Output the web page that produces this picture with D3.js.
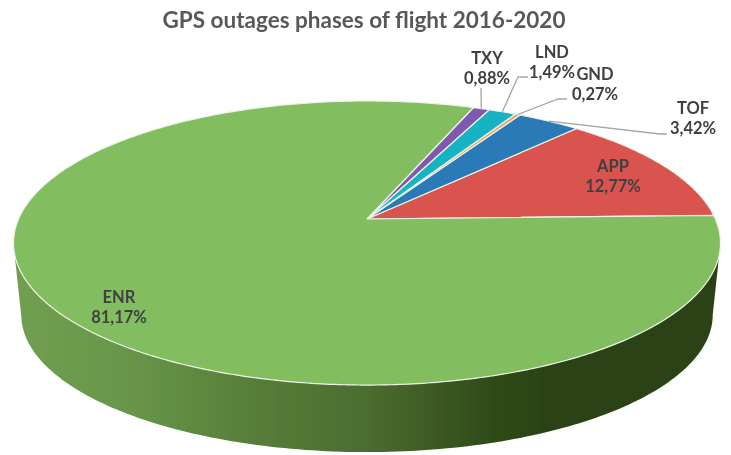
<!DOCTYPE html>
<html>
<head>
<meta charset="utf-8">
<script src="https://cdn.jsdelivr.net/npm/d3@7"></script>
<style>
  html, body { margin: 0; padding: 0; background: #fff; }
  text { font-family: Lato, "Open Sans", sans-serif; font-weight: 700; }
</style>
</head>
<body>
<div id="chart"></div>
<script>
const title = 'GPS outages phases of flight 2016-2020';
const phases = ['APP', 'TOF', 'GND', 'LND', 'TXY', 'ENR'];
const shares = [12.77, 3.42, 0.27, 1.49, 0.88, 81.17];
const colors = ['#d9534f', '#2a7ab8', '#f2a65a', '#17b3c4', '#7f58b0', '#82bd61'];

const width = 731, height = 455;

// label placement, centre of the two text lines
const labelPos = {
  APP: [613, 166], TOF: [693, 108], GND: [595, 74],
  LND: [552, 52], TXY: [487, 58], ENR: [119, 297]
};
// leader lines: elbow points going from the label towards the slice
const leaders = {
  TOF: [[667, 134], [660, 134]],
  GND: [[567, 99], [558, 99]],
  LND: [[528, 77], [518, 77]],
  TXY: [[481, 88]]
};

// Tilted disc: perspective from the unit circle to the screen
const apex = { x: 367, y: 219 };
const persp = -0.169, spanX = 348.4, spanY = 138;
const startDeg = 1.5;

function project(angle, k = 1) {
  // angle in d3.pie terms: 0 at 12 o'clock, growing clockwise
  const u = k * Math.sin(angle), v = -k * Math.cos(angle);
  const w = 1 + persp * v;
  return [apex.x + spanX * u / w, apex.y + spanY * v / w];
}

const svg = d3.select('#chart').append('svg')
  .attr('width', width)
  .attr('height', height);

const defs = svg.append('defs');
const grad = defs.append('linearGradient')
  .attr('id', 'side')
  .attr('gradientUnits', 'userSpaceOnUse')
  .attr('x1', 13).attr('x2', 720).attr('y1', 0).attr('y2', 0);
[[0, '#719f50'], [0.16, '#69964a'], [0.33, '#587f3a'], [0.5, '#4b6d2f'], [0.68, '#2f4a19'], [0.75, '#2b4314'], [1, '#2b4214']]
  .forEach(s => grad.append('stop').attr('offset', s[0]).attr('stop-color', s[1]));

defs.append('filter').attr('id', 'soft')
  .append('feGaussianBlur').attr('stdDeviation', 0.45);

const root = svg.append('g').attr('filter', 'url(#soft)');

// Side wall: visible part of the top rim (between its widest points) + bottom rim
const line = d3.line();
const rimAngles = d3.range(99.7, 260.4, 1).map(d => d * Math.PI / 180);
const depth = 72, shrink = 0.978;
const topRim = rimAngles.map(a => project(a));
const lowRim = rimAngles.map(a => {
  const p = project(a);
  return [apex.x + (p[0] - apex.x) * shrink, p[1] + depth - (p[1] - 243) * 0.035];
}).reverse();

root.append('path')
  .attr('d', line(topRim.concat(lowRim)) + 'Z')
  .attr('fill', 'url(#side)');

// Top of the pie
const pie = d3.pie().sort(null)
  .startAngle(Math.PI / 2 - startDeg * Math.PI / 180)
  .endAngle(Math.PI / 2 - startDeg * Math.PI / 180 - 2 * Math.PI);
const slices = pie(shares);

function slicePath(d) {
  const n = Math.max(4, Math.ceil(Math.abs(d.endAngle - d.startAngle) * 90));
  const pts = d3.range(n + 1).map(i => project(d.startAngle + (d.endAngle - d.startAngle) * i / n));
  return line([[apex.x, apex.y]].concat(pts)) + 'Z';
}

root.append('g')
  .selectAll('path')
  .data(slices)
  .enter().append('path')
  .attr('d', slicePath)
  .attr('fill', (d, i) => colors[i])
  .attr('stroke', '#eef3e8')
  .attr('stroke-width', 1.2)
  .attr('stroke-linejoin', 'round');

// Leader lines
slices.forEach((d, i) => {
  const elbow = leaders[phases[i]];
  if (!elbow) return;
  const end = project((d.startAngle + d.endAngle) / 2, 1);
  root.append('path')
    .attr('d', line(elbow.concat([end])))
    .attr('fill', 'none')
    .attr('stroke', '#a6a6a6')
    .attr('stroke-width', 1.3);
});

// Labels
const labels = root.append('g')
  .selectAll('g')
  .data(phases)
  .enter().append('g')
  .attr('transform', d => `translate(${labelPos[d][0]},${labelPos[d][1]})`)
  .attr('fill', '#404040')
  .attr('font-size', 16.5)
  .attr('text-anchor', 'middle');

labels.append('text')
  .attr('dy', '0.35em')
  .text(d => d);

labels.append('text')
  .attr('y', 20)
  .attr('dy', '0.35em')
  .text((d, i) => shares[i].toFixed(2).replace('.', ',') + '%');

// Title
root.append('text')
  .attr('x', 364)
  .attr('y', 20)
  .attr('dy', '0.35em')
  .attr('text-anchor', 'middle')
  .attr('font-size', 22.5)
  .attr('fill', '#595959')
  .text(title);
</script>
</body>
</html>
